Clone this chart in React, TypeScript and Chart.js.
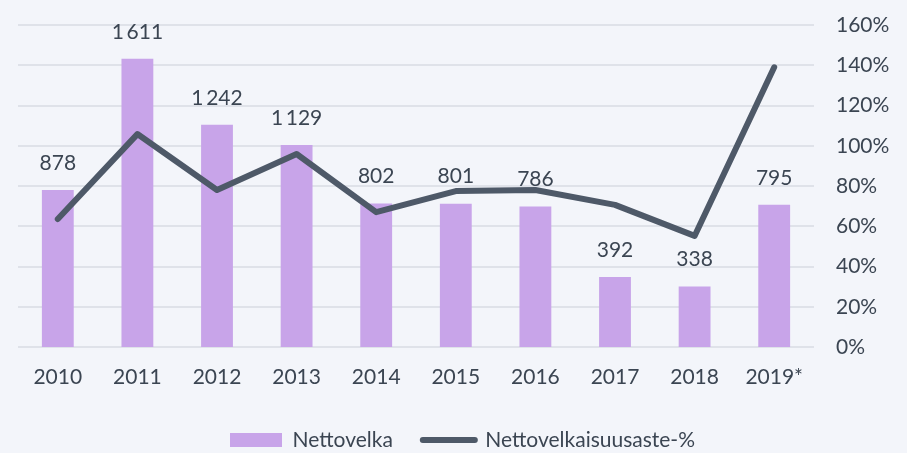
import React, { useEffect, useRef } from 'react';
import { Chart, registerables } from 'chart.js';

Chart.register(...registerables);

const years = ['2010', '2011', '2012', '2013', '2014', '2015', '2016', '2017', '2018', '2019*'];
const nettovelka = [878, 1611, 1242, 1129, 802, 801, 786, 392, 338, 795];
const nettovelkaisuusaste = [63.6, 105.8, 78, 95.9, 67, 77.5, 78, 70.6, 55.2, 139];
const percentMax = 160;
const percentStep = 20;
const barAxisMax = 1800;

const TEXT = '#3b4552';
const BAR = '#c8a4e9';
const LINE = '#4e5968';
const GRID = '#dfe2e9';
const BG = '#f3f5fa';
const FONT = 'Lato, "Open Sans", sans-serif';
const FS = 21;

function fmt(v: number): string {
  return String(v).replace(/\B(?=(\d{3})+(?!\d))/g, '\u2009');
}

const labelPlugin = {
  id: 'barLabels',
  afterDatasetsDraw(chart: any) {
    const meta = chart.getDatasetMeta(1);
    const ctx = chart.ctx;
    ctx.save();
    ctx.font = `${FS}px ${FONT}`;
    ctx.fillStyle = TEXT;
    ctx.textAlign = 'center';
    ctx.textBaseline = 'middle';
    meta.data.forEach((el: any, i: number) => {
      ctx.fillText(fmt(nettovelka[i]), el.x, el.y - 27);
    });
    ctx.restore();
  },
};

const legendShift = {
  id: 'legendShift',
  afterLayout(chart: any) {
    const lg = chart.legend;
    if (lg) {
      lg.top -= 13.5;
      lg.height += 13.5;
    }
  },
};

export default function App() {
  const ref = useRef<HTMLCanvasElement | null>(null);
  useEffect(() => {
    if (!ref.current) return;
    const chart = new Chart(ref.current, {
      data: {
        labels: years,
        datasets: [
          {
            type: 'line' as const,
            label: 'Nettovelkaisuusaste-%',
            data: nettovelkaisuusaste,
            yAxisID: 'y1',
            borderColor: LINE,
            backgroundColor: LINE,
            borderWidth: 6,
            borderCapStyle: 'round',
            borderJoinStyle: 'round',
            pointRadius: 0,
            tension: 0,
            order: 0,
          },
          {
            type: 'bar' as const,
            label: 'Nettovelka',
            data: nettovelka,
            yAxisID: 'y',
            backgroundColor: BAR,
            borderWidth: 0,
            barPercentage: 0.4,
            categoryPercentage: 1,
            order: 1,
          },
        ],
      },
      options: {
        animation: false,
        responsive: false,
        maintainAspectRatio: false,
        layout: { padding: { left: 18, top: 25, right: 0, bottom: 0 } },
        plugins: {
          tooltip: { enabled: false },
          legend: {
            position: 'bottom',
            maxHeight: 40,
            labels: {
              usePointStyle: true,
              pointStyleWidth: 52,
              boxHeight: 14,
              padding: 30,
              color: TEXT,
              font: { family: FONT, size: FS },
              generateLabels: () => {
                return [
                  {
                    text: 'Nettovelka',
                    fillStyle: BAR,
                    strokeStyle: BAR,
                    lineWidth: 0,
                    pointStyle: 'rect',
                    fontColor: TEXT,
                    hidden: false,
                    datasetIndex: 1,
                  },
                  {
                    text: 'Nettovelkaisuusaste-%',
                    fillStyle: LINE,
                    strokeStyle: LINE,
                    lineWidth: 6,
                    lineCap: 'round',
                    pointStyle: 'line',
                    fontColor: TEXT,
                    hidden: false,
                    datasetIndex: 0,
                  },
                ];
              },
            },
          },
        },
        scales: {
          x: {
            grid: { display: false, drawTicks: false },
            border: { display: false },
            ticks: { color: TEXT, font: { family: FONT, size: FS }, padding: 18, maxRotation: 0 },
            afterFit: (s: any) => {
              s.height = 66;
            },
          },
          y: {
            display: false,
            min: 0,
            max: barAxisMax,
          },
          y1: {
            position: 'right',
            min: 0,
            max: percentMax,
            grid: { color: GRID, lineWidth: 2, drawTicks: false },
            border: { display: false },
            ticks: {
              stepSize: percentStep,
              color: TEXT,
              font: { family: FONT, size: FS },
              padding: 22,
              callback: (v: any) => `${v}%`,
            },
            afterFit: (s: any) => {
              s.width = 93;
              s.paddingTop = 0;
              s.paddingBottom = 0;
            },
          },
        },
      },
      plugins: [labelPlugin, legendShift],
    } as any);
    return () => chart.destroy();
  }, []);

  return (
    <div style={{ position: 'fixed', left: 0, top: 0, width: 907, height: 453, background: BG }}>
      <canvas ref={ref} width={907} height={453} style={{ display: 'block', width: 907, height: 453 }} />
    </div>
  );
}
